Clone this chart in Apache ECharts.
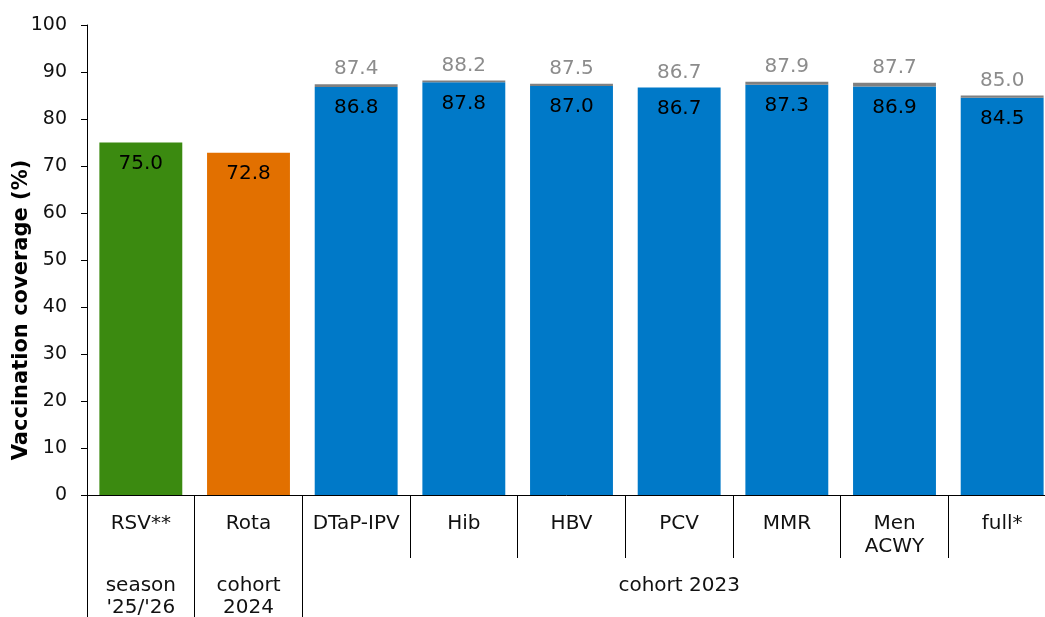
<!DOCTYPE html>
<html>
<head>
<meta charset="utf-8">
<style>html,body{margin:0;padding:0;background:#fff}#c{width:1045px;height:617px}</style>
<script src="https://cdn.jsdelivr.net/npm/echarts@6/dist/echarts.min.js"></script>
</head>
<body>
<div id="c"></div>
<script>
const categories = ['RSV**', 'Rota', 'DTaP-IPV', 'Hib', 'HBV', 'PCV', 'MMR', 'Men\nACWY', 'full*'];
const baseValues = [75.0, 72.8, 86.8, 87.8, 87.0, 86.7, 87.3, 86.9, 84.5];
const totalValues = [null, null, 87.4, 88.2, 87.5, 86.7, 87.9, 87.7, 85.0];
const groupLabels = ["season\n'25/'26", 'cohort\n2024', 'cohort 2023'];
const groupSpans = [1, 1, 7];
const yTicks = [0, 100, 10];
const barColors = ['#3b8a10', '#e27000', '#0079c8', '#0079c8', '#0079c8', '#0079c8', '#0079c8', '#0079c8', '#0079c8'];

const groupStarts = [];
const groupCategoryLabels = categories.map(() => '');
let s = 0;
groupSpans.forEach((n, i) => {
  groupStarts.push(s);
  groupCategoryLabels[s + Math.floor(n / 2)] = groupLabels[i];
  s += n;
});
const groupLabelIdx = groupCategoryLabels.map((l, i) => l ? i : -1).filter(i => i >= 0);

const font = 'DejaVu Sans';
const chart = echarts.init(document.getElementById('c'));
chart.setOption({
  animation: false,
  textStyle: { fontFamily: font },
  grid: { left: 87, right: -11, top: 25, bottom: 122, containLabel: false, outerBoundsMode: 'none' },
  xAxis: [{
    type: 'category',
    data: categories,
    axisLine: { lineStyle: { color: '#000', width: 1 } },
    axisTick: { show: true, length: 63, alignWithLabel: false, interval: 0, lineStyle: { color: '#000' } },
    axisLabel: { interval: 0, margin: 17, fontSize: 20, color: '#111', lineHeight: 23, fontFamily: font }
  }, {
    type: 'category',
    data: groupCategoryLabels,
    position: 'bottom',
    axisLine: { show: false },
    axisTick: { show: true, length: 130, alignWithLabel: false,
      interval: (i) => groupStarts.indexOf(i) >= 0, lineStyle: { color: '#000' } },
    axisLabel: { interval: (i) => groupLabelIdx.indexOf(i) >= 0, margin: 80, fontSize: 20, color: '#111', lineHeight: 22, fontFamily: font }
  }],
  yAxis: {
    type: 'value', min: yTicks[0], max: yTicks[1], interval: yTicks[2],
    name: 'Vaccination coverage (%)', nameLocation: 'middle', nameGap: 55, nameMoveOverlap: false,
    nameTextStyle: { fontSize: 21, fontWeight: 'bold', color: '#000', fontFamily: font, padding: [0, 100, 0, 0] },
    axisLine: { show: true, lineStyle: { color: '#000' } },
    axisTick: { show: true, length: 6, lineStyle: { color: '#000' } },
    axisLabel: { margin: 20, fontSize: 19, color: '#111', fontFamily: font },
    splitLine: { show: false }
  },
  series: [{
    type: 'bar', stack: 'a', barCategoryGap: '23%',
    data: baseValues.map((v, i) => ({ value: v, itemStyle: { color: barColors[i] } })),
    label: { show: true, position: 'insideTop', distance: 11, fontSize: 20, color: '#000', fontFamily: font,
      formatter: (p) => p.value.toFixed(1) }
  }, {
    type: 'bar', stack: 'a', barCategoryGap: '23%',
    itemStyle: { color: '#808080' },
    data: totalValues.map((t, i) => t == null ? null : +(t - baseValues[i]).toFixed(1)),
    label: { show: true, position: 'top', distance: 5, fontSize: 20, color: '#8c8c8c', fontFamily: font,
      formatter: (p) => totalValues[p.dataIndex] == null ? '' : totalValues[p.dataIndex].toFixed(1) }
  }]
});
</script>
</body>
</html>
